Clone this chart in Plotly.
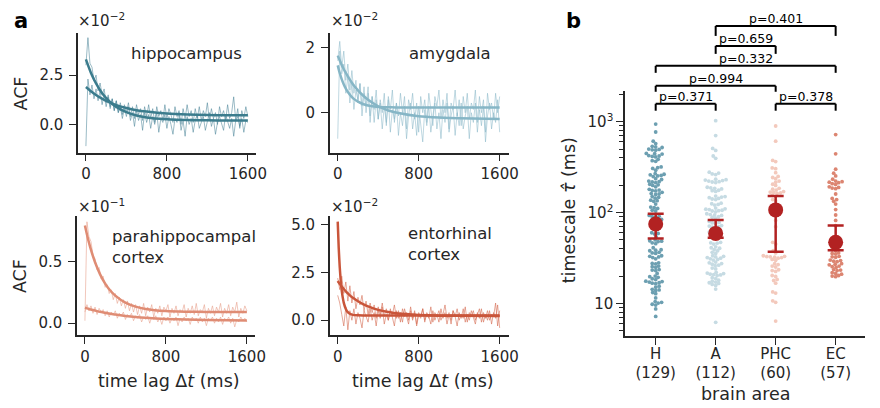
import numpy as np
import plotly.graph_objects as go

# ---------------- data ----------------
# panel a: ACF examples (values in displayed units, i.e. x10^-2 or x10^-1)
H_acf1 = [3.0, 4.4, 3.1, 2.9, 2.2, 2.5, 1.7, 2.1, 1.5, 1.8, 1.1, 1.5, 0.9, 1.3, 0.7, 1.2, 0.6, 0.9, 0.3, 0.8,
          0.4, 0.9, 0.2, 0.6, -0.1, 0.7, 0.2, 0.5, -0.3, 0.6, 0.1, 0.5, -0.2, 0.4, 0.0, 0.6, -0.4, 0.3, 0.1, 0.5,
          -0.2, 0.4, 0.0, -0.5, 0.3, 0.1, 0.6, -0.3, 0.2, -0.6, 0.4, 0.0, 0.3, -0.4, 0.2, 0.5, -0.2, 0.1, 0.4, -0.3,
          0.2, 0.6, -0.1, 0.3, -0.5, 0.1, 0.4, 0.0, -0.3, 0.5, 0.1, -0.2, 0.3, -0.6, 0.2, 0.4, -0.1, 0.3, -0.4, 0.2, 0.1]
H_acf2 = [-1.1, 2.3, 1.5, 2.0, 1.3, 1.8, 1.2, 1.7, 1.0, 1.5, 0.9, 1.4, 0.8, 1.3, 0.7, 1.2, 0.6, 1.1, 0.5, 1.0,
          0.6, 1.1, 0.4, 0.9, 0.3, 1.0, 0.5, 0.8, 0.2, 0.9, 0.4, 1.0, 0.3, 0.8, 0.1, 0.9, 0.4, 0.7, 0.2, 1.0,
          0.3, 0.8, 0.5, 0.1, 0.9, 0.4, 0.7, 0.0, 0.8, 0.3, 1.0, 0.4, 0.7, 0.1, 0.8, 0.3, 0.9, 0.2, 0.7, 0.4,
          1.1, 0.2, 0.8, 0.3, 0.6, 0.0, 0.9, 0.4, 0.7, 0.2, 1.0, 0.3, 0.6, 1.4, 0.2, 0.8, -0.2, 0.7, 0.3, 0.9, 0.4]
A_acf1 = [-0.8, 1.9, 1.2, 1.5, 0.6, 1.1, 0.3, 0.9, 0.1, 0.7, 0.4, 0.9, -0.1, 0.6, 0.2, 0.8, -0.3, 0.5, 0.1, 0.7,
          -0.2, 0.4, 0.0, 0.6, -0.4, 0.5, 0.1, 0.7, -0.3, 0.3, -0.1, 0.6, 0.0, 0.5, -0.5, 0.4, 0.1, 0.6, -0.2, 0.3,
          -0.6, 0.5, 0.0, 0.4, -0.3, 0.6, 0.1, -0.4, 0.5, 0.2, 0.7, -0.2, 0.4, 0.0, 0.6, -0.5, 0.3, 0.1, 0.7, -0.1,
          0.4, -0.4, 0.5, 0.0, 0.6, -0.2, 0.3, 0.1, 0.7, -0.3, 0.5, 0.0, 0.4, -0.6, 0.6, 0.1, 0.3, -0.2, 0.6, 0.0, 0.5]
A_acf2 = [1.6, 2.2, 1.4, 1.9, 1.0, 1.5, 0.7, 1.3, 0.6, 1.0, 0.3, 0.9, 0.2, 0.8, 0.0, 0.6, -0.1, 0.5, -0.3, 0.4,
          -0.2, 0.3, -0.5, 0.2, -0.3, 0.4, -0.6, 0.1, -0.2, 0.3, -0.7, 0.0, -0.4, 0.2, -0.8, -0.1, 0.3, -0.5, 0.0, -0.7,
          0.2, -0.3, -0.9, 0.1, -0.4, 0.2, -0.6, -0.1, 0.3, -0.5, 0.0, -0.8, 0.1, -0.3, 0.3, -0.6, -0.1, 0.2, -0.7, 0.0,
          -0.4, 0.3, -0.5, -0.1, 0.2, -0.8, 0.0, -0.3, 0.3, -0.6, 0.1, -0.4, 0.2, -0.9, -0.1, 0.3, -0.5, 0.0, -0.3, 0.4, -0.6]
P_acf1 = [0.02, 0.82, 0.70, 0.66, 0.55, 0.52, 0.43, 0.45, 0.36, 0.38, 0.29, 0.31, 0.24, 0.27, 0.19, 0.24, 0.16, 0.21, 0.14, 0.19,
          0.12, 0.18, 0.10, 0.16, 0.09, 0.15, 0.07, 0.14, 0.08, 0.16, 0.06, 0.13, 0.09, 0.15, 0.05, 0.12, 0.08, 0.14, 0.06, 0.13,
          0.10, 0.15, 0.05, 0.12, 0.08, 0.14, 0.06, 0.11, 0.09, 0.15, 0.05, 0.12, 0.08, 0.14, 0.07, 0.16, 0.06, 0.11, 0.09, 0.15,
          0.04, 0.12, 0.08, 0.14, 0.06, 0.13, 0.09, 0.16, 0.05, 0.12, 0.08, 0.15, 0.06, 0.13, 0.09, 0.17, 0.05, 0.12, 0.08, 0.14, 0.10]
P_acf2 = [0.09, 0.15, 0.10, 0.14, 0.08, 0.13, 0.07, 0.12, 0.09, 0.11, 0.06, 0.10, 0.05, 0.09, 0.07, 0.10, 0.04, 0.08, 0.06, 0.09,
          0.03, 0.07, 0.05, 0.08, 0.02, 0.06, 0.04, 0.07, 0.01, 0.05, 0.03, 0.06, 0.00, 0.05, 0.03, 0.06, 0.01, 0.04, -0.01, 0.05,
          0.02, 0.05, 0.00, 0.04, 0.02, 0.05, -0.02, 0.04, 0.01, 0.05, 0.02, 0.04, -0.01, 0.05, 0.02, 0.04, 0.00, 0.05, 0.01, 0.04,
          -0.02, 0.04, 0.02, 0.05, 0.00, 0.04, 0.01, 0.05, -0.01, 0.04, 0.02, 0.05, 0.00, 0.04, -0.03, 0.03, 0.01, 0.05, 0.02, 0.04, 0.01]
E_acf1 = [1.3, 0.9, 0.3, -0.3, 0.7, -0.5, 0.5, 0.0, 0.6, -0.2, 0.4, 0.1, -0.4, 0.5, 0.2, -0.1, 0.6, 0.0, 0.4, -0.3,
          0.5, 0.1, 0.7, -0.2, 0.3, 0.0, 0.6, 0.2, -0.3, 0.5, 0.1, 0.4, -0.1, 0.6, 0.2, -0.2, 0.5, 0.0, 0.4, -0.3,
          0.3, 0.1, 0.6, -0.1, 0.4, 0.2, -0.2, 0.5, 0.0, 0.3, -0.1, 0.6, 0.1, 0.4, -0.2, 0.3, 0.0, 0.5, 0.2, -0.3,
          0.4, 0.1, 0.6, -0.1, 0.3, 0.0, 0.5, 0.2, -0.2, 0.4, 0.1, 0.6, -0.1, 0.3, 0.0, 0.5, -0.2, 0.4, 0.1, 0.8, -0.4]
E_acf2 = [2.2, 1.6, 2.3, 1.4, 2.0, 1.0, 1.8, 0.9, 1.5, 0.6, 1.2, 0.8, 1.3, 0.5, 1.0, 0.3, 0.9, 0.4, 0.8, 0.1,
          0.7, 0.3, 0.9, 0.2, 0.6, 0.0, 0.5, 0.3, 0.8, 0.1, 0.5, -0.1, 0.6, 0.2, 0.4, 0.0, 0.7, 0.1, 0.5, -0.2,
          0.4, 0.2, 0.6, 0.0, 0.3, 0.1, 0.7, -0.1, 0.4, 0.2, 0.5, 0.0, 0.3, 0.8, 0.1, 0.4, -0.2, 0.5, 0.2, 0.6,
          0.0, 0.3, 0.1, 0.7, -0.1, 0.4, 0.2, 0.5, 0.0, 0.3, 0.6, -0.1, 0.4, 0.1, 0.5, 0.0, 0.3, 0.2, 0.9, -0.3, 0.5]

H_fit_lag = [0, 50, 100, 150, 200, 250, 300, 400, 500, 600, 800, 1000, 1200, 1400, 1600]
H_fit1 = [3.30, 2.61, 2.08, 1.66, 1.34, 1.09, 0.89, 0.62, 0.45, 0.35, 0.26, 0.22, 0.21, 0.20, 0.20]
H_fit2 = [1.90, 1.68, 1.49, 1.33, 1.19, 1.08, 0.98, 0.83, 0.72, 0.65, 0.55, 0.50, 0.48, 0.46, 0.46]
A_fit_lag = [0, 20, 40, 60, 80, 100, 150, 200, 250, 300, 400, 500, 600, 800, 1000, 1200, 1600]
A_fit1 = [1.46, 1.22, 1.03, 0.87, 0.74, 0.64, 0.45, 0.34, 0.27, 0.22, 0.18, 0.17, 0.16, 0.16, 0.16, 0.16, 0.16]
A_fit2 = [1.76, 1.61, 1.47, 1.34, 1.23, 1.12, 0.88, 0.69, 0.53, 0.40, 0.20, 0.07, -0.01, -0.11, -0.15, -0.17, -0.19]
P_fit_lag = [0, 20, 40, 60, 80, 100, 150, 200, 250, 300, 400, 500, 600, 800, 1000, 1200, 1600]
P_fit1 = [0.79, 0.717, 0.651, 0.592, 0.54, 0.493, 0.395, 0.32, 0.264, 0.223, 0.166, 0.134, 0.115, 0.098, 0.093, 0.091, 0.09]
P_fit2 = [0.125, 0.12, 0.115, 0.11, 0.106, 0.102, 0.092, 0.084, 0.076, 0.07, 0.059, 0.05, 0.043, 0.034, 0.029, 0.025, 0.022]
E_fit_lag = [0, 10, 20, 30, 40, 50, 60, 80, 100, 120, 150, 200, 250, 300, 400, 500, 600, 800, 1000, 1200, 1600]
E_fit1 = [5.15, 3.76, 2.77, 2.05, 1.54, 1.18, 0.91, 0.59, 0.42, 0.34, 0.28, 0.26, 0.25, 0.25, 0.25, 0.25, 0.25, 0.25, 0.25, 0.25, 0.25]
E_fit2 = [2.05, 1.97, 1.90, 1.83, 1.76, 1.69, 1.63, 1.51, 1.40, 1.30, 1.17, 0.99, 0.84, 0.72, 0.54, 0.43, 0.35, 0.28, 0.24, 0.23, 0.22]

# panel b: timescales (ms)
areas = ["H", "A", "PHC", "EC"]
area_n = ["(129)", "(112)", "(60)", "(57)"]
tau_H = [942, 770, 610, 575, 535, 528, 520, 500, 495, 490, 486, 448, 444, 440, 424, 419, 415, 410, 385, 372, 366,
         318, 312, 306, 292, 268, 264, 260, 256, 253, 249, 236, 231, 222, 219, 217, 214, 205, 202, 199, 192,
         180, 177, 175, 173, 167, 162, 160, 158, 150, 147, 144, 137, 135, 133, 124, 115, 113, 111, 106, 104,
         93, 91, 90, 89, 84, 83, 82, 78, 72, 66, 60, 59, 58, 54, 50, 49, 48.5, 48, 46.5, 45.5,
         41, 39, 38.5, 38, 36.5, 36, 35.5, 33.5, 33, 32.5, 32, 31, 28, 27.6, 27.2, 25.8, 25.4, 25, 23.6, 23.3, 23, 21.4,
         20, 19.7, 19.4, 18.7, 18.3, 17.6, 17.4, 17.2, 16.9, 16.7, 16.5, 15.5, 15.1, 14.3, 14.1, 13.9, 13.2, 12.8,
         11.5, 10.5, 10.3, 10.1, 9.8, 9.6, 8.7, 7.2]
tau_A = [1026, 703, 508, 483, 419, 395, 278, 272, 266, 262, 233, 230, 228, 225, 222, 219, 217, 214,
         190, 187, 185, 182, 176, 174, 171, 152, 150, 148, 146, 143, 141, 139, 127, 125, 123, 121,
         112, 110, 109, 108, 106, 105, 104, 102, 97, 95, 94, 93, 90, 89, 87, 80, 78, 77, 76,
         72, 71, 70, 69, 68, 61, 60, 59, 58, 54, 53, 52, 47, 46.5, 46, 45, 42, 41, 40.5, 39, 38,
         36.5, 35.5, 33.5, 33, 32.5, 32, 31.5, 31, 30.5, 30, 28.5, 28, 27.5, 27, 26.4, 26, 24.5, 24,
         22, 21.6, 21.3, 21, 20.8, 20.6, 20.3, 19.2, 18.8, 18, 17.6, 17.2, 16.9, 16.6, 16.2, 15.8, 14.4, 6.2]
tau_PHC = [896, 610, 375, 364, 310, 304, 275, 250, 243, 236, 222, 216, 205, 199, 185, 181, 177,
           170, 168, 167, 165, 163, 155, 151, 139, 135, 115, 102, 82, 70, 47, 45,
           38, 36, 33.5, 33, 32.8, 32.6, 32.3, 32, 31.5, 30.5, 29.8, 27.4, 26.8, 25.8, 25.2,
           23.5, 23, 22.5, 20.3, 19.8, 18.4, 17.9, 16.7, 13.4, 13, 10.7, 10.3, 6.4]
tau_EC = [721, 443, 300, 271, 253, 233, 222, 219, 216, 213, 208, 204, 192, 189, 186, 183,
          160, 143, 139, 133, 124, 108, 94, 82, 72, 52, 50, 49, 48, 42,
          39, 38, 36, 35.5, 35, 33, 32.6, 32.2, 30, 29.6, 29.2, 28.8, 27.4, 27, 26.6, 25.8, 25.4, 25,
          23.6, 23.3, 23, 21.8, 21.4, 21, 20.3, 20, 19.7]
tau_mean = [75, 59, 107, 47]
tau_lo = [52, 53, 37, 38.5]
tau_hi = [97, 83, 152, 72]

pvals = [(0, 1, "p=0.371"), (2, 3, "p=0.378"), (0, 2, "p=0.994"),
         (0, 3, "p=0.332"), (1, 2, "p=0.659"), (1, 3, "p=0.401")]

# ---------------- styling / layout helpers ----------------
W, H = 880, 408
FONT = "DejaVu Sans"
INK = "#262626"
TICK = 15
LABEL = 17.5
ANN = 16.5


def fx(p):
    return p / W


def fy(p):
    return 1 - p / H


col_noise = ["rgba(72,132,152,0.55)", "rgba(138,184,200,0.55)", "rgba(232,162,142,0.6)", "rgba(214,108,84,0.6)"]
col_fit = ["#3b7c8d", "#86b6c6", "#df8c74", "#c9553a"]
col_dot = ["#6c9fb1", "#c6dbe3", "#f3c9bc", "#dc8571"]
RED = "#b22222"

fig = go.Figure()

panels = [
    (H_acf1, H_acf2, H_fit_lag, H_fit1, H_fit2),
    (A_acf1, A_acf2, A_fit_lag, A_fit1, A_fit2),
    (P_acf1, P_acf2, P_fit_lag, P_fit1, P_fit2),
    (E_acf1, E_acf2, E_fit_lag, E_fit1, E_fit2),
]
for k, (n1, n2, fl, f1, f2) in enumerate(panels):
    ax = "" if k == 0 else str(k + 1)
    for n in (n1, n2):
        lag = np.linspace(0, 1600, len(n))
        fig.add_trace(go.Scatter(x=lag, y=n, mode="lines", line=dict(color=col_noise[k], width=1),
                                 xaxis="x" + ax, yaxis="y" + ax, hoverinfo="skip"))
    for f in (f1, f2):
        fig.add_trace(go.Scatter(x=fl, y=f, mode="lines",
                                 line=dict(color=col_fit[k], width=2.5, shape="spline", smoothing=0.6),
                                 xaxis="x" + ax, yaxis="y" + ax, hoverinfo="skip"))

# swarm layout (pixel space)
PPD = 91.1   # pixels per decade
PPC = 60.75  # pixels per category


def swarm_offsets(vals, d=3.2):
    y = np.log10(np.asarray(vals, float)) * PPD
    order = np.argsort(y)
    cands = np.arange(-30, 30.01, 0.5)
    cands = cands[np.argsort(np.abs(cands), kind="stable")]
    px, py = [], []
    off = np.zeros(len(y))
    for i in order:
        ax_ = np.array(px)
        ay_ = np.array(py)
        if len(ay_):
            m = np.abs(ay_ - y[i]) < d
            ax_, ay_ = ax_[m], ay_[m]
        chosen = 0.0
        for c in cands:
            if len(ax_) == 0 or np.all((ax_ - c) ** 2 + (ay_ - y[i]) ** 2 >= d * d):
                chosen = c
                break
        off[i] = chosen
        px.append(chosen)
        py.append(y[i])
    return off / PPC


for k, vals in enumerate([tau_H, tau_A, tau_PHC, tau_EC]):
    xs = k + swarm_offsets(vals)
    fig.add_trace(go.Scatter(x=xs, y=vals, mode="markers",
                             marker=dict(color=col_dot[k], size=3.8, line=dict(width=0)),
                             xaxis="x5", yaxis="y5", hoverinfo="skip"))

fig.add_trace(go.Scatter(
    x=list(range(4)), y=tau_mean, mode="markers",
    marker=dict(color=RED, size=15),
    error_y=dict(type="data", symmetric=False,
                 array=[h - m for h, m in zip(tau_hi, tau_mean)],
                 arrayminus=[m - l for m, l in zip(tau_mean, tau_lo)],
                 color=RED, thickness=2.5, width=8),
    xaxis="x5", yaxis="y5", hoverinfo="skip"))

axis_common = dict(showline=True, linecolor=INK, linewidth=1.5, ticks="outside", ticklen=7,
                   tickwidth=1.3, tickcolor=INK, showgrid=False, zeroline=False,
                   tickfont=dict(family=FONT, size=TICK, color=INK))

boxes = [((79, 259), (32, 152), [-78, 1678], [-1.43, 4.64], [0, 2.5], ["0.0", "2.5"]),
         ((334, 515), (32, 152), [-78, 1688], [-1.23, 2.46], [0, 2], ["0", "2"]),
         ((78, 258), (216, 335), [-78, 1678], [-0.097, 0.863], [0, 0.5], ["0.0", "0.5"]),
         ((334, 515), (216, 335), [-78, 1688], [-0.78, 5.42], [0, 2.5, 5], ["0.0", "2.5", "5.0"])]
layout = {}
for k, (bx, by, xr, yr, yt, ytt) in enumerate(boxes):
    s = "" if k == 0 else str(k + 1)
    layout["xaxis" + s] = dict(axis_common, domain=[fx(bx[0]), fx(bx[1])], range=xr,
                               anchor="y" + s, tickvals=[0, 800, 1600], ticktext=["0", "800", "1600"])
    layout["yaxis" + s] = dict(axis_common, domain=[fy(by[1]), fy(by[0])], range=yr,
                               anchor="x" + s, tickvals=yt, ticktext=ytt, ticklabelstandoff=3)

layout["xaxis5"] = dict(axis_common, domain=[fx(633), fx(876)], range=[-0.51, 3.49], anchor="y5",
                        tickvals=[0, 1, 2, 3], ticktext=[f"{a}<br>{n}" for a, n in zip(areas, area_n)],
                        ticklabelstandoff=-4)
layout["yaxis5"] = dict(axis_common, domain=[fy(336), fy(90)], type="log", range=[0.64, 3.34], anchor="x5",
                        tickvals=[10, 100, 1000], ticktext=["10", "10<sup>2</sup>", "10<sup>3</sup>"],
                        minor=dict(ticks="outside", ticklen=4, tickwidth=1, tickcolor=INK,
                                   tickvals=[5, 6, 7, 8, 9, 20, 30, 40, 50, 60, 70, 80, 90,
                                             200, 300, 400, 500, 600, 700, 800, 900, 2000]))

annotations = []


def txt(x, y, s, size=ANN, xanchor="left", yanchor="middle", angle=0, bold=False, xref="paper"):
    annotations.append(dict(x=x, y=y, xref=xref, yref="paper", text=(f"<b>{s}</b>" if bold else s),
                            showarrow=False, xanchor=xanchor, yanchor=yanchor, textangle=angle,
                            font=dict(family=FONT, size=size, color="black" if bold else INK)))


txt(fx(12), fy(20), "a", size=21, bold=True)
txt(fx(571), fy(20), "b", size=21, bold=True)
txt(fx(77), fy(19), "×10<sup>−2</sup>", size=TICK)
txt(fx(333), fy(19), "×10<sup>−2</sup>", size=TICK)
txt(fx(77), fy(206), "×10<sup>−1</sup>", size=TICK)
txt(fx(333), fy(206), "×10<sup>−2</sup>", size=TICK)
txt(fx(131), fy(53), "hippocampus")
txt(fx(412), fy(53), "amygdala")
annotations.append(dict(x=fx(111), y=fy(247), xref="paper", yref="paper", text="parahippocampal<br>cortex",
                        showarrow=False, xanchor="left", yanchor="middle", align="left",
                        font=dict(family=FONT, size=ANN, color=INK)))
annotations.append(dict(x=fx(411), y=fy(244), xref="paper", yref="paper", text="entorhinal<br>cortex",
                        showarrow=False, xanchor="left", yanchor="middle", align="left",
                        font=dict(family=FONT, size=ANN, color=INK)))
txt(fx(21), fy(93), "ACF", size=LABEL, xanchor="center", angle=-90)
txt(fx(21), fy(276), "ACF", size=LABEL, xanchor="center", angle=-90)
txt(fx(171), fy(381), "time lag Δ<i>t</i> (ms)", size=LABEL, xanchor="center")
txt(fx(428), fy(381), "time lag Δ<i>t</i> (ms)", size=LABEL, xanchor="center")
txt(fx(577), fy(210), "timescale <i>τ̂</i> (ms)", size=LABEL, xanchor="center", angle=-90)
txt(fx(755), fy(394), "brain area", size=LABEL, xanchor="center")

# significance brackets
bracket_px = {(0, 1): (103, 110), (2, 3): (103, 110), (0, 2): (85, 91),
              (0, 3): (65, 72), (1, 2): (45, 53), (1, 3): (25, 35)}
shapes = []
for a, b, label in pvals:
    top, bot = bracket_px[(a, b)]
    for (x0, y0, x1, y1) in [(a, bot, a, top), (a, top, b, top), (b, top, b, bot)]:
        shapes.append(dict(type="line", xref="x5", yref="paper", x0=x0, x1=x1, y0=fy(y0), y1=fy(y1),
                           line=dict(color="black", width=2)))
    annotations.append(dict(x=(a + b) / 2, y=fy(top), xref="x5", yref="paper", text=label, showarrow=False,
                            xanchor="center", yanchor="bottom", yshift=-2,
                            font=dict(family=FONT, size=12.5, color="black")))

fig.update_layout(width=W, height=H, margin=dict(l=0, r=0, t=0, b=0), plot_bgcolor="white",
                  paper_bgcolor="white", showlegend=False, hovermode=False,
                  annotations=annotations, shapes=shapes, **layout)

# remove the browser's default 8px page margin so the figure sits at the window origin
fig.write_html("out.html", config={"displayModeBar": False},
               post_script="document.body.style.margin='0px';")
